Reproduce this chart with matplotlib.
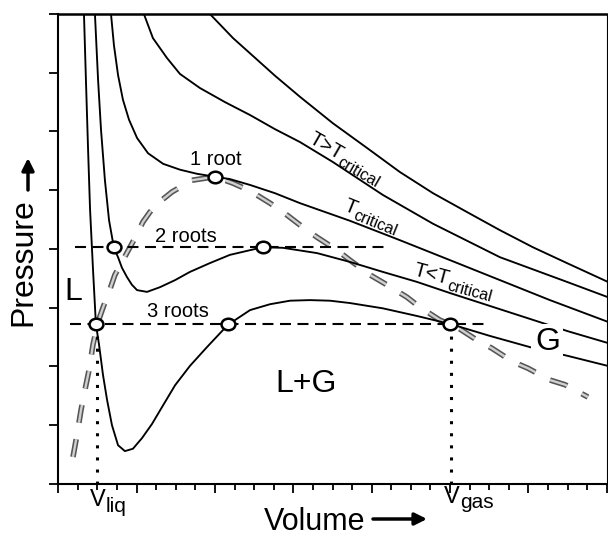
import numpy as np
import matplotlib
matplotlib.use('Agg')
import matplotlib.pyplot as plt
from matplotlib.path import Path
from matplotlib.transforms import Affine2D

plt.rcParams['font.family'] = ['Liberation Sans', 'DejaVu Sans']
plt.rcParams['lines.scale_dashes'] = False

# isotherms: volume in minor-tick units, pressure in major-tick units
v_hot = [7.74, 8.92, 9.99, 11.06, 12.34, 14.02, 15.76, 17.44, 19.13, 20.86, 22.55, 24.23, 25.97, 28.06]
p_hot = [8.0, 7.59, 7.27, 6.95, 6.59, 6.14, 5.72, 5.31, 4.95, 4.63, 4.32, 4.03, 3.76, 3.44]

v_above = [4.37, 4.83, 5.55, 6.21, 7.23, 8.51, 9.79, 11.06, 12.34, 14.02, 16.57, 19.13, 22.55, 25.97, 28.06]
p_above = [8.0, 7.59, 7.25, 6.98, 6.74, 6.50, 6.28, 6.04, 5.82, 5.48, 4.92, 4.43, 3.86, 3.44, 3.18]

v_crit = [2.69, 2.84, 3.05, 3.30, 3.61, 4.02, 4.58, 5.35, 6.21, 7.08, 8.00, 8.76, 9.79, 11.06,
          12.34, 14.89, 17.44, 20.00, 22.55, 25.10, 28.06]
p_crit = [8.0, 7.47, 6.96, 6.54, 6.20, 5.89, 5.63, 5.45, 5.35, 5.28, 5.23, 5.19, 5.09, 4.95,
          4.78, 4.48, 4.15, 3.81, 3.47, 3.13, 2.76]

v_below = [1.87, 2.03, 2.18, 2.38, 2.59, 2.84, 3.05, 3.25, 3.51, 3.76, 4.02, 4.53, 5.19, 5.96, 6.72,
           7.74, 8.76, 9.79, 10.45, 11.47, 13.21, 14.89, 16.57, 18.31, 20.00, 22.04, 24.08, 26.02, 28.06]
p_below = [8.0, 6.88, 6.03, 5.17, 4.49, 4.02, 3.86, 3.68, 3.52, 3.39, 3.30, 3.27, 3.35, 3.47, 3.61,
           3.76, 3.90, 3.98, 4.03, 4.02, 3.93, 3.78, 3.61, 3.44, 3.25, 3.03, 2.81, 2.60, 2.40]

v_low = [1.31, 1.41, 1.52, 1.62, 1.77, 1.92, 2.08, 2.28, 2.49, 2.74, 3.05, 3.40, 3.81, 4.27, 4.78,
         5.35, 5.96, 6.72, 7.59, 8.66, 9.79, 10.81, 11.83, 12.85, 13.87, 14.89, 16.57, 18.31, 20.05,
         22.04, 24.08, 26.02, 28.06]
p_low = [8.0, 6.88, 5.69, 4.68, 3.66, 2.72, 2.37, 1.86, 1.43, 1.00, 0.66, 0.56, 0.60, 0.78, 1.02,
         1.34, 1.68, 2.01, 2.33, 2.71, 2.96, 3.06, 3.12, 3.13, 3.12, 3.08, 2.99, 2.86, 2.72,
         2.52, 2.33, 2.18, 2.01]

# liquid/gas coexistence dome
v_dome = [0.75, 0.95, 1.16, 1.36, 1.57, 1.77, 2.03, 2.28, 2.59, 2.89, 3.30, 3.61, 3.92, 4.32, 4.68,
          5.09, 5.80, 6.82, 8.00, 8.92, 9.79, 10.81, 11.47, 12.49, 13.21, 14.23, 14.89, 15.91, 16.78,
          17.80, 18.46, 19.48, 20.05, 20.40, 21.37, 22.14, 23.21, 23.98, 25.10, 25.87, 27.04]
p_dome = [0.46, 0.83, 1.26, 1.60, 1.94, 2.37, 2.76, 3.00, 3.27, 3.56, 3.81, 4.00, 4.19, 4.46, 4.63,
          4.78, 4.97, 5.17, 5.23, 5.12, 4.99, 4.78, 4.63, 4.37, 4.20, 3.98, 3.81, 3.56, 3.39,
          3.18, 3.01, 2.79, 2.71, 2.66, 2.45, 2.31, 2.08, 1.97, 1.77, 1.69, 1.48]

# roots
root1_v, root1_p = [8.0], [5.23]
roots2_v, roots2_p = [2.84, 10.45], 4.03
roots3_v, roots3_p = [1.92, 8.66, 20.0], 2.72
line2_v = [0.85, 16.78]
line3_v = [0.60, 22.04]
v_liq, v_gas = 2.0, 20.05

fig = plt.figure(figsize=(6.08, 5.4), dpi=100)
ax = fig.add_axes([0.0959, 0.1037, 0.902, 0.8704])
ax.set_xlim(0, 28)
ax.set_ylim(0, 8)
ax.set_xticks(np.arange(0, 29, 4))
ax.set_xticks(np.arange(0, 29, 1), minor=True)
ax.set_yticks(np.arange(0, 9, 1))
ax.tick_params(labelbottom=False, labelleft=False)
ax.tick_params(axis='both', which='major', direction='out', length=6.5, width=1.3)
ax.tick_params(axis='x', which='minor', direction='out', length=4.3, width=1.3)
ax.spines['left'].set_linewidth(1.5)
ax.spines['bottom'].set_linewidth(1.5)
ax.spines['top'].set_linewidth(1.8)
ax.spines['right'].set_linewidth(0.8)

# dome: dark rim + light core gives the hatched look
ax.plot(v_dome, p_dome, color='#555555', lw=4.0, dashes=(13, 12), dash_capstyle='butt', zorder=2)
ax.plot(v_dome, p_dome, color='#d0d0d0', lw=1.7, dashes=(13, 12), dash_capstyle='butt', zorder=2.1)

for v, p in [(v_hot, p_hot), (v_above, p_above), (v_crit, p_crit), (v_below, p_below), (v_low, p_low)]:
    ax.plot(v, p, color='black', lw=1.35, zorder=3)

ax.plot(line2_v, [roots2_p] * 2, color='black', lw=1.5, dashes=(7.9, 4.7), zorder=2.5)
ax.plot(line3_v, [roots3_p] * 2, color='black', lw=1.5, dashes=(7.9, 4.7), zorder=2.5)
ax.plot([v_liq, v_liq], [roots3_p, 0], color='black', lw=2.2, dashes=(2.2, 6.5), zorder=2.5)
ax.plot([v_gas, v_gas], [roots3_p, 0], color='black', lw=2.2, dashes=(2.2, 6.5), zorder=2.5)

ell = Path.unit_circle().transformed(Affine2D().scale(1.2, 1.0))
mk = dict(ls='none', marker=ell, ms=10, mfc='white', mec='black', mew=1.8, zorder=5)
ax.plot(root1_v, root1_p, **mk)
ax.plot(roots2_v, [roots2_p] * 2, **mk)
ax.plot(roots3_v, [roots3_p] * 3, **mk)

r = fig.canvas.get_renderer()


def text_width(s, size):
    t = fig.text(0, 0, s, fontsize=size)
    w = t.get_window_extent(renderer=r).width * 72 / fig.dpi
    t.remove()
    return w


def with_sub(x, y, main, sub, rot=0, size=14.5, subsize=11.5, drop=3.5, center=False):
    w = text_width(main, size)
    shift = -w / 2 if center else 0
    a = np.radians(rot)
    kw = dict(textcoords='offset points', rotation=rot, rotation_mode='anchor',
              ha='left', va='baseline', annotation_clip=False, zorder=6)
    ax.annotate(main, (x, y), xytext=(shift * np.cos(a), shift * np.sin(a)), fontsize=size, **kw)
    s = shift + w
    ax.annotate(sub, (x, y), xytext=(s * np.cos(a) + drop * np.sin(a), s * np.sin(a) - drop * np.cos(a)),
                fontsize=subsize, **kw)


with_sub(12.70, 5.82, 'T>T', 'critical', rot=-30)
with_sub(14.53, 4.66, 'T', 'critical', rot=-22)
with_sub(18.10, 3.55, 'T<T', 'critical', rot=-15)
with_sub(v_liq, -0.38, 'V', 'liq', size=17, subsize=15, drop=4, center=True)
with_sub(20.1, -0.32, 'V', 'gas', size=17, subsize=15, drop=4, center=True)

ax.text(8.05, 5.43, '1 root', ha='center', va='baseline', fontsize=14.5)
ax.text(6.52, 4.12, '2 roots', ha='center', va='baseline', fontsize=14.5)
ax.text(6.11, 2.84, '3 roots', ha='center', va='baseline', fontsize=14.5)
ax.text(0.78, 3.13, 'L', ha='center', va='baseline', fontsize=23)
ax.text(24.97, 2.28, 'G', ha='center', va='baseline', fontsize=23, zorder=6,
        bbox=dict(facecolor='white', edgecolor='none', pad=2.5))
ax.text(12.65, 1.57, 'L+G', ha='center', va='baseline', fontsize=23)

fig.text(314.5 / 608, 1 - 530 / 540, 'Volume', ha='center', va='baseline', fontsize=22)
fig.text(23 / 608, 1 - 262 / 540, 'Pressure', rotation=90, ha='center', va='center', fontsize=23)
arr = dict(arrowstyle='-|>', lw=2.5, color='black', mutation_scale=18, shrinkA=0, shrinkB=0)
ax.annotate('', xy=(427 / 608, 21 / 540), xytext=(373 / 608, 21 / 540),
            xycoords='figure fraction', textcoords='figure fraction', arrowprops=arr)
ax.annotate('', xy=(28 / 608, 382 / 540), xytext=(28 / 608, 350 / 540),
            xycoords='figure fraction', textcoords='figure fraction', arrowprops=arr)

fig.savefig('out.png', dpi=100, facecolor='white')
